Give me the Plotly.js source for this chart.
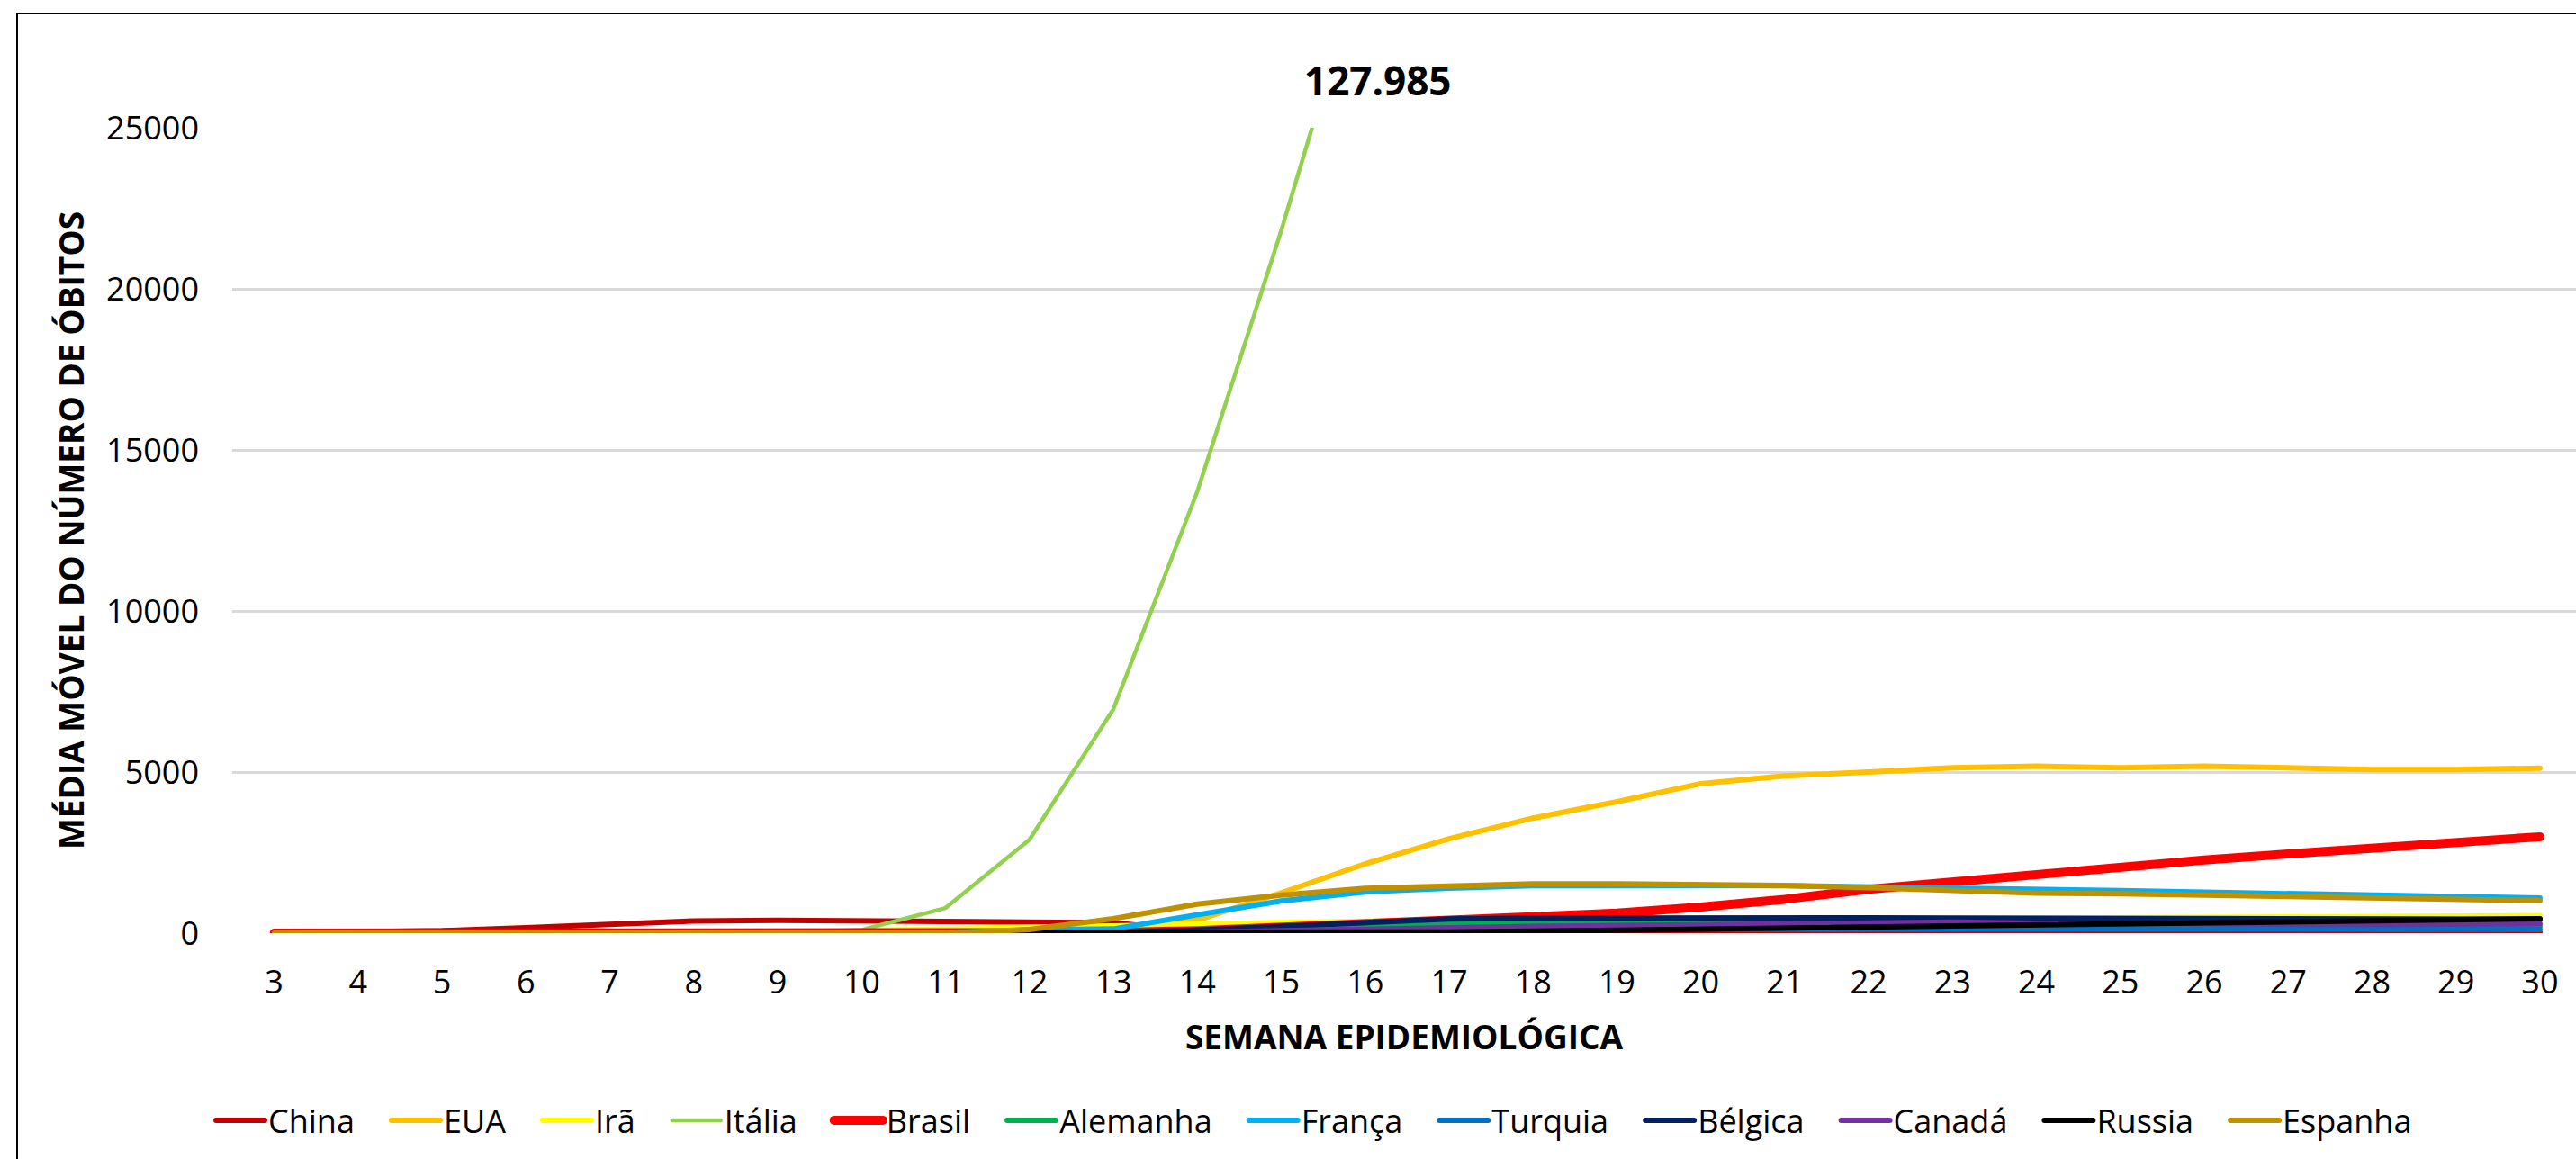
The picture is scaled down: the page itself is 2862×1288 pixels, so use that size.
<!DOCTYPE html>
<html>
<head>
<meta charset="utf-8">
<script src="https://cdn.plot.ly/plotly-3.0.1.min.js"></script>
<style>
html,body{margin:0;padding:0;background:#fff;}
#chart{width:2862px;height:1288px;}
.scatterlayer path.js-line, .legendlines path{stroke-linejoin:round;stroke-linecap:round;}
</style>
</head>
<body>
<div id="chart"></div>
<script>
// Semana epidemiológica (categories)
const weeks = ['3','4','5','6','7','8','9','10','11','12','13','14','15','16','17','18','19','20','21','22','23','24','25','26','27','28','29','30'];

// Média móvel do número de óbitos, por país (weeks 3..30)
const china    = [10,25,75,170,290,380,400,370,340,330,320,60,40,50,30,20,20,20,20,20,20,20,20,20,20,20,20,20];
const eua      = [0,0,0,0,0,0,0,0,10,50,150,400,1250,2150,2930,3570,4080,4640,4880,5000,5130,5180,5130,5180,5130,5080,5080,5120];
const ira      = [0,0,0,0,0,5,30,80,150,190,225,290,330,370,390,400,400,410,420,430,440,450,460,480,500,515,530,545];
const italia   = [0,0,0,0,0,0,0,100,780,2900,6950,13700,21800,30500,127985,null,null,null,null,null,null,null,null,null,null,null,null,null];
const brasil   = [0,0,0,0,0,0,0,0,0,5,20,80,180,290,400,490,620,810,1050,1360,1600,1830,2060,2270,2460,2640,2820,2990];
const alemanha = [0,0,0,0,0,0,0,0,0,0,20,70,150,230,300,330,335,330,320,300,280,260,250,240,230,220,215,210];
const franca   = [0,0,0,0,0,0,0,0,20,100,130,570,1000,1280,1400,1470,1490,1480,1470,1440,1400,1360,1320,1270,1220,1180,1130,1090];
const turquia  = [0,0,0,0,0,0,0,0,0,0,10,40,80,110,120,120,125,125,125,125,125,125,125,125,125,120,120,115];
const belgica  = [0,0,0,0,0,0,0,0,0,0,20,100,220,340,440,470,480,480,480,475,465,455,450,445,440,435,430,430];
const canada   = [0,0,0,0,0,0,0,0,0,0,5,30,80,130,180,210,235,260,300,340,340,310,290,275,265,270,280,290];
const russia   = [0,0,0,0,0,0,0,0,0,0,2,5,10,20,35,60,90,120,150,190,220,260,290,320,345,380,420,450];
const espanha  = [0,0,0,0,0,0,0,0,0,110,450,900,1180,1390,1470,1527,1527,1508,1480,1410,1310,1240,1220,1180,1130,1090,1040,1010];

const seriesNames = ['China','EUA','Irã','Itália','Brasil','Alemanha','França','Turquia','Bélgica','Canadá','Russia','Espanha'];
const seriesData  = [china,eua,ira,italia,brasil,alemanha,franca,turquia,belgica,canada,russia,espanha];
const seriesColors = ['#C00000','#FFC000','#FFFF00','#92D050','#FF0000','#00B050','#00B0F0','#0070C0','#002060','#7030A0','#000000','#BF9000'];
const seriesWidths = [6,6,6,4.5,10,6,6,6,6,6,6,6];

const FONT = "'Open Sans', 'DejaVu Sans', sans-serif";

const traces = seriesNames.map((n,i)=>({
  type:'scatter', mode:'lines', name:n, x:weeks, y:seriesData[i],
  line:{color:seriesColors[i], width:seriesWidths[i]},
  connectgaps:false, hoverinfo:'skip'
}));

// label for the Italian peak (off the chart)
const italiaMax = Math.max(...italia.filter(v=>v!==null));
const italiaMaxIdx = italia.indexOf(italiaMax);
const italiaLabel = String(italiaMax).replace(/\B(?=(\d{3})+(?!\d))/g,'.');

const W = 2862, H = 1288;
const M = {l:258, r:0, t:142, b:251};
const pw = W - M.l - M.r, ph = H - M.t - M.b;
const px = v => (v - M.l)/pw;      // pixel -> paper x
const py = v => (H - M.b - v)/ph;  // pixel -> paper y

const layout = {
  width:W, height:H,
  margin:M,
  paper_bgcolor:'#ffffff', plot_bgcolor:'#ffffff',
  font:{family:FONT, color:'#000000', size:36},
  showlegend:true,
  legend:{
    orientation:'h', x:px(1460), xanchor:'center', y:py(1245), yanchor:'middle',
    font:{family:FONT, size:36, color:'#000000'},
    itemwidth:48, bgcolor:'rgba(0,0,0,0)', traceorder:'normal'
  },
  xaxis:{
    type:'category', range:[-0.5, (W - M.r - 305)/93.22],
    showgrid:false, zeroline:false, showline:false, ticks:'',
    tickfont:{family:FONT, size:36, color:'#000000'},
    ticklabelstandoff:30,
    title:{text:'<b>SEMANA EPIDEMIOLÓGICA</b>', font:{family:FONT, size:37, color:'#000000'}, standoff:26},
    automargin:false, fixedrange:true
  },
  yaxis:{
    range:[0,25000], tickvals:[0,5000,10000,15000,20000,25000], tickformat:'d',
    showgrid:true, gridcolor:'#D9D9D9', gridwidth:3,
    zeroline:false, showline:false, ticks:'',
    tickfont:{family:FONT, size:36, color:'#000000'},
    ticklabelstandoff:36,
    title:{text:'<b>MÉDIA MÓVEL DO NÚMERO DE ÓBITOS</b>', font:{family:FONT, size:37, color:'#000000'}, standoff:13},
    automargin:false, fixedrange:true
  },
  annotations:[{
    xref:'x', x:italiaMaxIdx-1, xshift:14, yref:'paper', y:py(89), yanchor:'middle',
    text:'<b>'+italiaLabel+'</b>', showarrow:false,
    font:{family:FONT, size:44, color:'#000000'}
  }],
  shapes:[{
    type:'rect', xref:'paper', yref:'paper',
    x0:px(19), x1:px(W+200), y0:py(H+200), y1:py(15),
    line:{color:'#000000', width:2}, fillcolor:'rgba(0,0,0,0)', layer:'above'
  }]
};

// Excel-style legend spacing: long symbol, small gap to text, wide gap between entries
function spaceLegend(gd){
  const SYM = 54, TXT_GAP = 4, ENTRY_GAP = 41, START_X = 240;
  const sb = gd.querySelector('.legend .scrollbox');
  if (sb) sb.removeAttribute('clip-path');
  const groups = gd.querySelectorAll('.legend .traces');
  let x = 0;
  groups.forEach(g => {
    const m = /translate\(([-\d.]+)[ ,]*([-\d.]+)?\)/.exec(g.getAttribute('transform')||'');
    const y = m && m[2] ? parseFloat(m[2]) : 0;
    const p = g.querySelector('.legendlines path');
    if (p) p.setAttribute('d','M0,0h'+SYM);
    const t = g.querySelector('text.legendtext');
    if (t) t.setAttribute('x', SYM + TXT_GAP);
    const w = t ? t.getComputedTextLength() : 0;
    g.setAttribute('transform','translate('+x+','+y+')');
    g.dataset.x = x; g.dataset.y = y;
    x += SYM + TXT_GAP + w + ENTRY_GAP;
  });
  if (groups.length){
    const first = groups[0].querySelector('.legendlines path');
    const left = first.getBoundingClientRect().left;
    const chartLeft = gd.getBoundingClientRect().left;
    const delta = START_X - (left - chartLeft);
    groups.forEach(g => {
      g.setAttribute('transform','translate('+(parseFloat(g.dataset.x)+delta)+','+g.dataset.y+')');
    });
  }
}

Plotly.newPlot('chart', traces, layout, {displayModeBar:false, staticPlot:true})
  .then(gd => spaceLegend(gd));
</script>
</body>
</html>
